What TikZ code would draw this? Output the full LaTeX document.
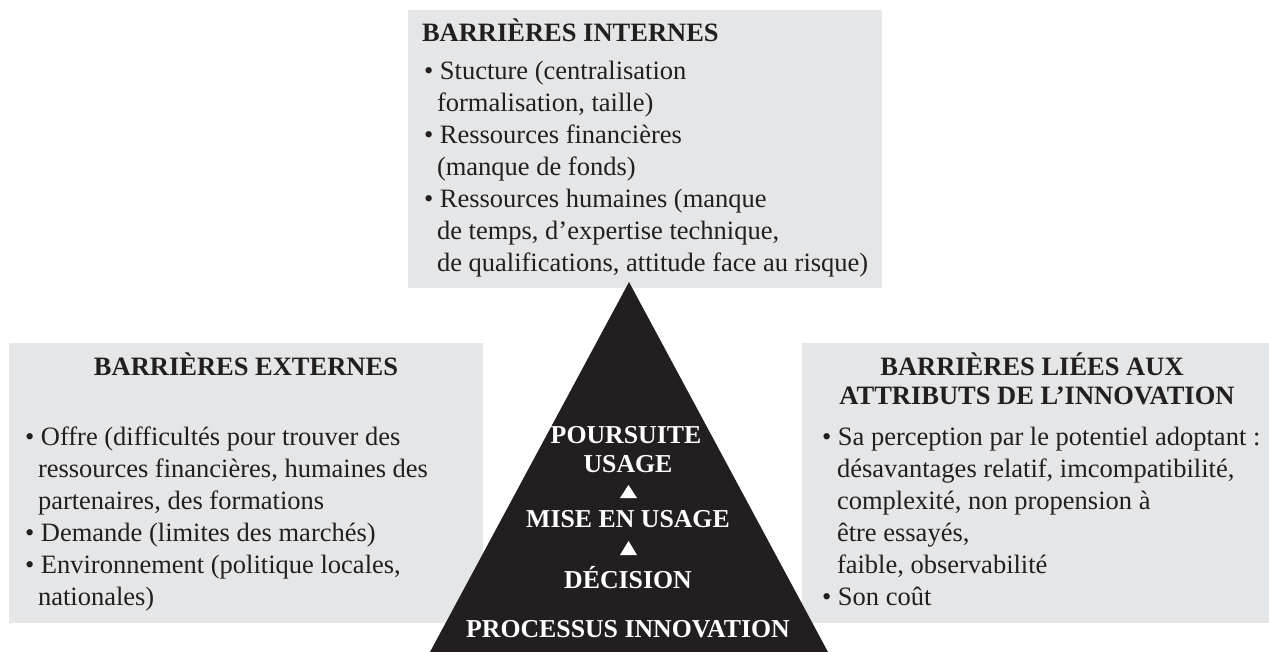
\documentclass[tikz,border=0pt]{standalone}
\usepackage{fontspec}
\setmainfont{Liberation Serif}
\definecolor{panelgray}{HTML}{E5E6E8}
\definecolor{ink}{HTML}{231F20}
\begin{document}
\begin{tikzpicture}[x=1pt,y=-1pt,
    panel/.style={fill=panelgray, anchor=north west},
    txt/.style={font=\fontsize{26.5}{32}\selectfont, text=ink, anchor=base west},
    head/.style={font=\fontsize{26.5}{32}\selectfont\bfseries, text=ink, anchor=base},
    stage/.style={font=\fontsize{25.8}{30}\selectfont\bfseries, text=white, anchor=base}]
    \tikzstyle{every node}+=[inner sep=0pt, outer sep=0pt]
    \useasboundingbox (0,0) rectangle (1269,652);
    % panels
    \node [panel, minimum width=474pt, minimum height=278pt] (internes) at (408,10) {};
    \node [panel, minimum width=474pt, minimum height=280pt] (externes) at (9,343) {};
    \node [panel, minimum width=467pt, minimum height=280pt] (attributs) at (802,343) {};
    % triangle
    \coordinate (sommet) at (629,282);
    \coordinate (baseD) at (828,652);
    \coordinate (baseG) at (430,652);
    \fill [ink] (sommet) -- (baseD) -- (baseG) -- cycle;
    \fill [white] (620,498) -- (637,498) -- (628.5,485) -- cycle;
    \fill [white] (620,555) -- (637,555) -- (628.5,541) -- cycle;
    \node [stage] (poursuite) at (626,443) {POURSUITE};
    \node [stage] (usage) at (628,472) {USAGE};
    \node [stage] (mise) at (628,527) {MISE EN USAGE};
    \node [stage] (decision) at (628,588) {DÉCISION};
    \node [stage] (processus) at (628,637) {PROCESSUS INNOVATION};
    % barrieres internes
    \node [head, anchor=base west] (intT) at (422,42) {BARRIÈRES INTERNES};
    \node [txt] (int1) at (424,80) {• Stucture (centralisation};
    \node [txt] (int2) at (437,112) {formalisation, taille)};
    \node [txt] (int3) at (424,144) {• Ressources financières};
    \node [txt] (int4) at (437,176) {(manque de fonds)};
    \node [txt] (int5) at (424,208) {• Ressources humaines (manque};
    \node [txt] (int6) at (437,240) {de temps, d’expertise technique,};
    \node [txt] (int7) at (437,272) {de qualifications, attitude face au risque)};
    % barrieres externes
    \node [head] (extT) at (246,375) {BARRIÈRES EXTERNES};
    \node [txt] (ext1) at (25,445) {• Offre (difficultés pour trouver des};
    \node [txt] (ext2) at (38,477) {ressources financières, humaines des};
    \node [txt] (ext3) at (38,509) {partenaires, des formations};
    \node [txt] (ext4) at (25,541) {• Demande (limites des marchés)};
    \node [txt] (ext5) at (25,573) {• Environnement (politique locales,};
    \node [txt] (ext6) at (38,605) {nationales)};
    % barrieres liees aux attributs
    \node [head] (attT1) at (1032,375) {BARRIÈRES LIÉES AUX};
    \node [head] (attT2) at (1037,404) {ATTRIBUTS DE L’INNOVATION};
    \node [txt] (att1) at (822,445) {• Sa perception par le potentiel adoptant :};
    \node [txt] (att2) at (837,477) {désavantages relatif, imcompatibilité,};
    \node [txt] (att3) at (837,509) {complexité, non propension à};
    \node [txt] (att4) at (837,541) {être essayés,};
    \node [txt] (att5) at (837,573) {faible, observabilité};
    \node [txt] (att6) at (822,605) {• Son coût};
\end{tikzpicture}
\end{document}
